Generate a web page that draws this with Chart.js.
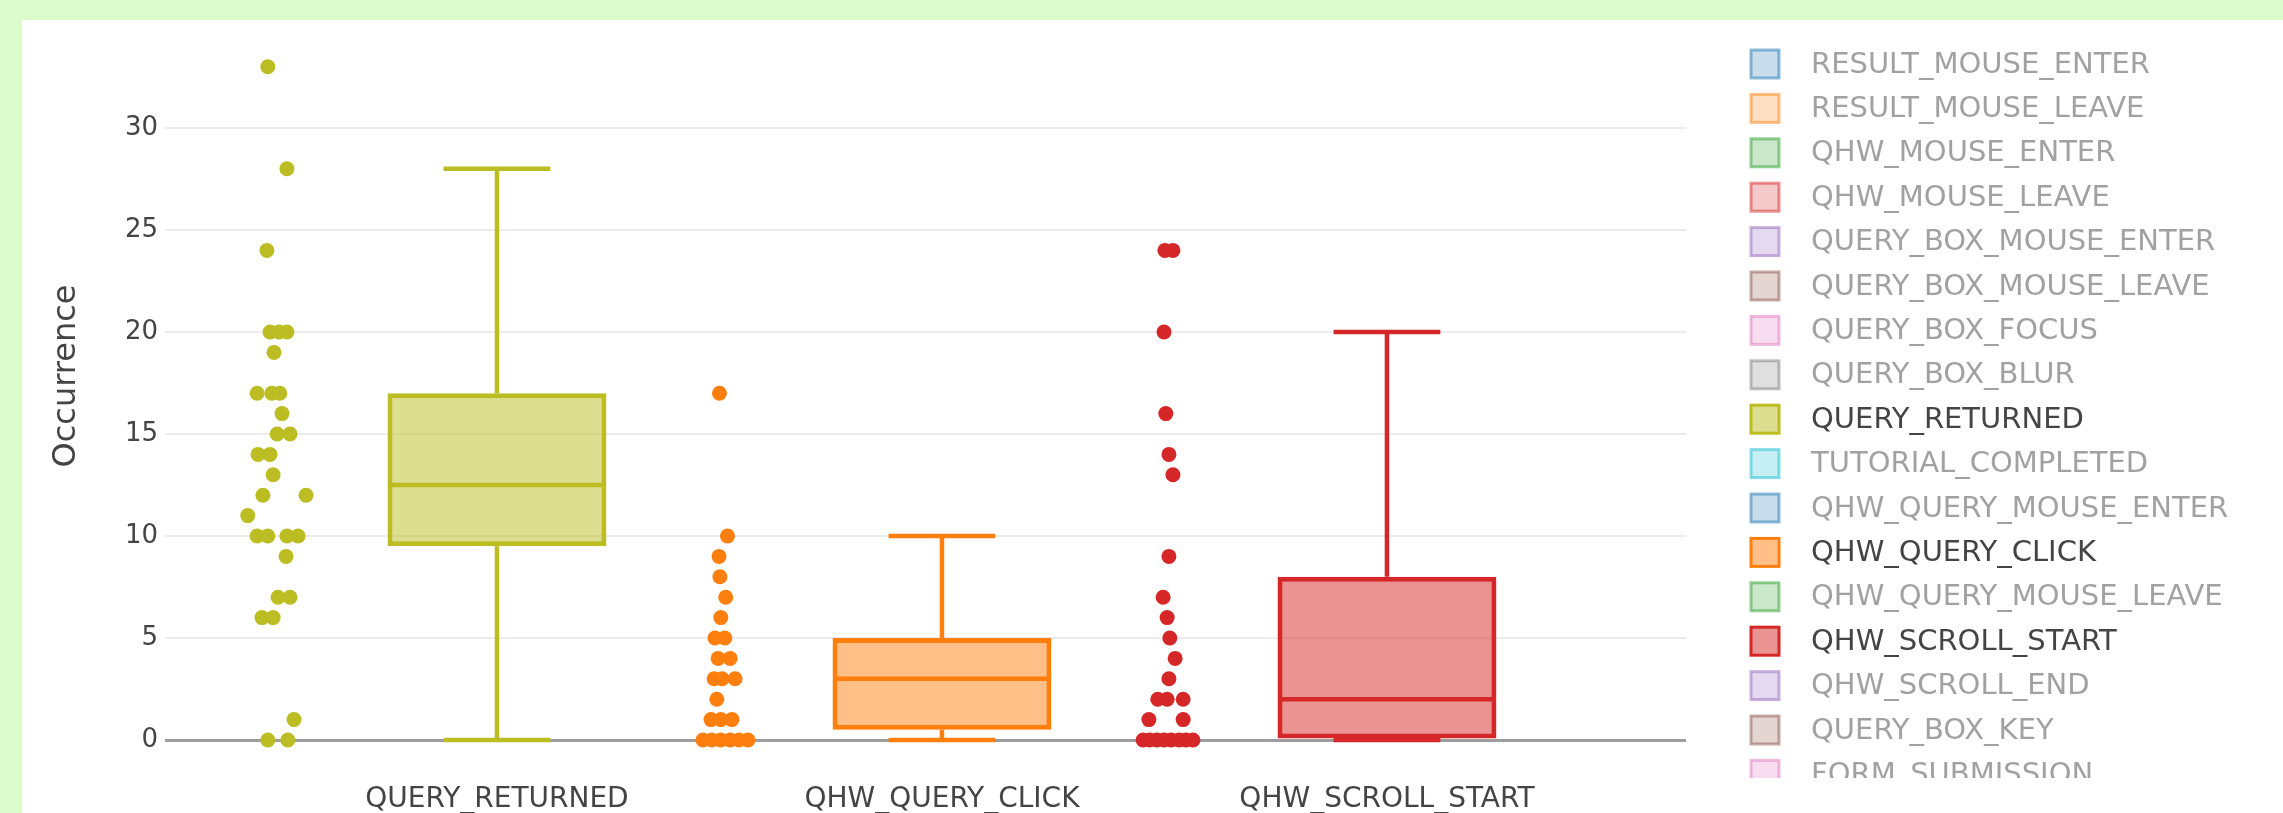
<!DOCTYPE html>
<html>
<head>
<meta charset="utf-8">
<title>Occurrence per event</title>
<script src="https://cdn.jsdelivr.net/npm/chart.js@4.4.1/dist/chart.umd.min.js"></script>
<style>
  html, body { margin: 0; padding: 0; overflow: hidden; }
  body { width: 2283px; height: 813px; background: #dcfbcd; position: relative; }
  #panel { position: absolute; left: 22px; top: 20px; width: 2261px; height: 800px; background: #fff; }
</style>
</head>
<body>
<div id="panel"><canvas id="boxChart"></canvas></div>
<script>
// categories on the x axis (the three traces that are switched on)
const categories = ["QUERY_RETURNED", "QHW_QUERY_CLICK", "QHW_SCROLL_START"];
const seriesColors = ["#bcbd22", "#ff7f0e", "#d62728"];

// box statistics
const boxQ1 = [9.5, 0.5, 0];
const boxMedian = [12.5, 3, 2];
const boxQ3 = [17, 5, 8];
const whiskerLow = [0, 0, 0];
const whiskerHigh = [28, 10, 20];

// raw points shown beside each box, with their jitter (category units, from the picture)
const returnedValues = [33, 28, 24, 20, 20, 20, 19, 17, 17, 17, 16, 15, 15, 14, 14, 13, 12, 12, 11, 10, 10, 10, 10, 9, 7, 7, 6, 6, 1, 0, 0];
const returnedJitter = [-0.515, -0.472, -0.517, -0.510, -0.490, -0.472, -0.501, -0.539, -0.506, -0.488, -0.483, -0.494, -0.465, -0.537, -0.510, -0.503, -0.526, -0.429, -0.560, -0.539, -0.515, -0.472, -0.447, -0.474, -0.492, -0.465, -0.528, -0.503, -0.456, -0.515, -0.470];

const clickValues = [17, 10, 9, 8, 7, 6, 5, 5, 4, 4, 3, 3, 3, 2, 1, 1, 1, 0, 0, 0, 0, 0, 0];
const clickJitter = [-0.500, -0.482, -0.501, -0.499, -0.486, -0.497, -0.510, -0.488, -0.503, -0.476, -0.512, -0.494, -0.465, -0.506, -0.519, -0.497, -0.472, -0.537, -0.517, -0.497, -0.476, -0.456, -0.436];

const scrollValues = [24, 24, 20, 16, 14, 13, 9, 7, 6, 5, 4, 3, 2, 2, 2, 1, 1, 0, 0, 0, 0, 0, 0, 0, 0];
const scrollJitter = [-0.499, -0.481, -0.501, -0.497, -0.490, -0.481, -0.490, -0.503, -0.494, -0.488, -0.476, -0.490, -0.515, -0.494, -0.458, -0.535, -0.458, -0.548, -0.533, -0.517, -0.501, -0.485, -0.467, -0.452, -0.436];

const yTicks = [0, 5, 10, 15, 20, 25, 30];

// legend entries (all traces of the figure, most hidden)
const legendNames = ["RESULT_MOUSE_ENTER", "RESULT_MOUSE_LEAVE", "QHW_MOUSE_ENTER", "QHW_MOUSE_LEAVE",
  "QUERY_BOX_MOUSE_ENTER", "QUERY_BOX_MOUSE_LEAVE", "QUERY_BOX_FOCUS", "QUERY_BOX_BLUR",
  "QUERY_RETURNED", "TUTORIAL_COMPLETED", "QHW_QUERY_MOUSE_ENTER", "QHW_QUERY_CLICK",
  "QHW_QUERY_MOUSE_LEAVE", "QHW_SCROLL_START", "QHW_SCROLL_END", "QUERY_BOX_KEY", "FORM_SUBMISSION"];
const legendColors = ["#1f77b4", "#ff7f0e", "#2ca02c", "#d62728", "#9467bd", "#8c564b", "#e377c2",
  "#7f7f7f", "#bcbd22", "#17becf"];

const FONT = "'DejaVu Sans', Verdana, sans-serif";
const BOX_HALF = 0.246;
const CAP_HALF = 0.12;

function fade(hex, a) {
  const n = parseInt(hex.slice(1), 16);
  return "rgba(" + (n >> 16) + "," + ((n >> 8) & 255) + "," + (n & 255) + "," + a + ")";
}

const pointSets = [returnedValues, clickValues, scrollValues];
const jitterSets = [returnedJitter, clickJitter, scrollJitter];

const datasets = [];

// jittered points
categories.forEach((cat, i) => {
  datasets.push({
    type: "scatter",
    label: cat,
    data: pointSets[i].map((v, k) => ({ x: i + jitterSets[i][k], y: v })),
    backgroundColor: seriesColors[i],
    borderWidth: 0,
    pointRadius: 7.5,
    pointHoverRadius: 7.5
  });
});

// whiskers, caps and median
categories.forEach((cat, i) => {
  const gap = { x: i, y: null };
  datasets.push({
    type: "line",
    label: cat + " whiskers",
    data: [
      { x: i, y: boxQ3[i] }, { x: i, y: whiskerHigh[i] }, gap,
      { x: i - CAP_HALF, y: whiskerHigh[i] }, { x: i + CAP_HALF, y: whiskerHigh[i] }, gap,
      { x: i, y: boxQ1[i] }, { x: i, y: whiskerLow[i] }, gap,
      { x: i - CAP_HALF, y: whiskerLow[i] }, { x: i + CAP_HALF, y: whiskerLow[i] }, gap,
      { x: i - BOX_HALF + 0.005, y: boxMedian[i] }, { x: i + BOX_HALF - 0.005, y: boxMedian[i] }
    ],
    borderColor: seriesColors[i],
    borderWidth: 4.5,
    pointRadius: 0,
    spanGaps: false,
    fill: false,
    tension: 0
  });
});

// boxes (Q1..Q3)
datasets.push({
  type: "bar",
  label: "boxes",
  data: categories.map((c, i) => ({ x: i, y: [boxQ1[i], boxQ3[i]] })),
  backgroundColor: seriesColors.map(c => fade(c, 0.5)),
  borderColor: seriesColors,
  borderWidth: 5,
  borderSkipped: false,
  categoryPercentage: 1,
  barPercentage: 0.492
});

const yTitlePlugin = {
  id: "yTitle",
  afterDraw(chart) {
    const ctx = chart.ctx;
    ctx.save();
    ctx.translate(45, 356);
    ctx.rotate(-Math.PI / 2);
    ctx.font = "32px " + FONT;
    ctx.fillStyle = "#444";
    ctx.textAlign = "center";
    ctx.textBaseline = "middle";
    ctx.fillText("Occurrence", 0, 0);
    ctx.restore();
  }
};

const sideLegend = {
  id: "sideLegend",
  afterDraw(chart) {
    const ctx = chart.ctx;
    ctx.save();
    ctx.beginPath();
    ctx.rect(1700, 0, chart.width - 1700, 758);
    ctx.clip();
    ctx.font = "29px " + FONT;
    ctx.textBaseline = "middle";
    legendNames.forEach((name, i) => {
      const y = 44 + i * 44.4;
      const col = legendColors[i % legendColors.length];
      ctx.globalAlpha = categories.includes(name) ? 1 : 0.5;
      ctx.fillStyle = fade(col, 0.5);
      ctx.fillRect(1729, y - 14, 28, 28);
      ctx.strokeStyle = col;
      ctx.lineWidth = 3;
      ctx.strokeRect(1729, y - 14, 28, 28);
      ctx.fillStyle = "#444";
      ctx.fillText(name, 1789, y + 1);
    });
    ctx.restore();
  }
};

new Chart(document.getElementById("boxChart"), {
  type: "scatter",
  data: { datasets: datasets },
  options: {
    responsive: true,
    maintainAspectRatio: false,
    animation: false,
    layout: { padding: { top: 10, right: 597, left: 0, bottom: 0 } },
    plugins: {
      legend: { display: false },
      tooltip: { enabled: false }
    },
    scales: {
      x: {
        type: "linear",
        min: -0.746,
        max: 2.672,
        offset: false,
        afterBuildTicks: s => { s.ticks = categories.map((c, i) => ({ value: i })); },
        afterFit: s => { s.height = 43; s.paddingLeft = 0; s.paddingRight = 0; },
        grid: { display: false },
        border: { display: false },
        ticks: {
          autoSkip: false,
          maxRotation: 0,
          padding: -2,
          color: "#444",
          font: { family: FONT, size: 28 },
          callback: v => categories[v]
        }
      },
      y: {
        type: "linear",
        min: -37 / 20.4,
        max: 710 / 20.4,
        afterBuildTicks: s => { s.ticks = yTicks.map(v => ({ value: v })); },
        afterFit: s => { s.width = 143; s.paddingTop = 0; s.paddingBottom = 0; },
        grid: {
          color: c => c.tick.value === 0 ? "#9d9d9d" : "#ececec",
          lineWidth: c => c.tick.value === 0 ? 3 : 2,
          drawTicks: false
        },
        border: { display: false },
        ticks: {
          padding: 7,
          color: "#444",
          font: { family: FONT, size: 26 }
        }
      }
    }
  },
  plugins: [yTitlePlugin, sideLegend]
});
</script>
</body>
</html>
